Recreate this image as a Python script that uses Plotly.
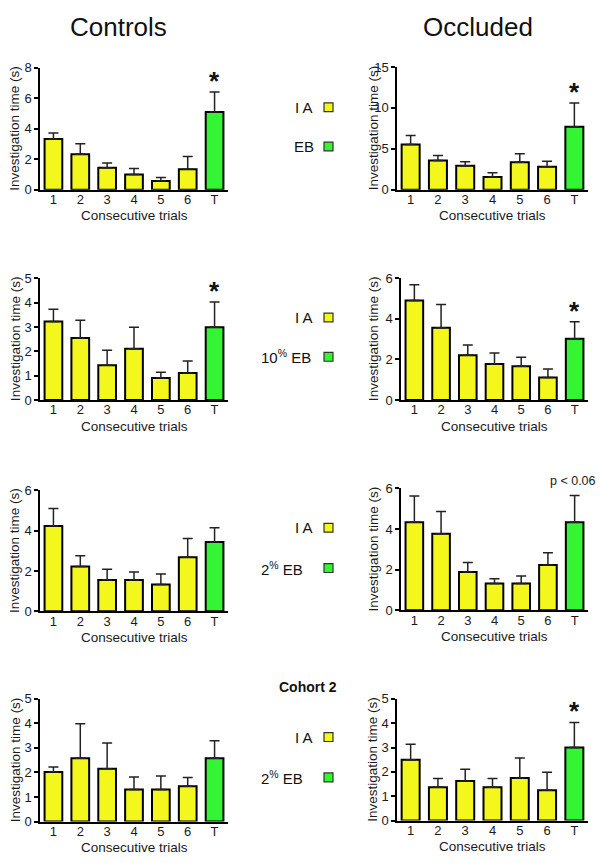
import plotly.graph_objects as go

W, H = 600, 863
categories = ["1", "2", "3", "4", "5", "6", "T"]

# Means and SEMs (upper error only) for each panel
ctrl_eb_mean = [3.34, 2.33, 1.44, 1.01, 0.58, 1.34, 5.11]
ctrl_eb_sem = [0.39, 0.69, 0.31, 0.39, 0.22, 0.84, 1.31]
occ_eb_mean = [5.54, 3.57, 2.93, 1.56, 3.37, 2.81, 7.70]
occ_eb_sem = [1.08, 0.60, 0.48, 0.53, 1.04, 0.68, 2.89]
ctrl_10_mean = [3.22, 2.55, 1.43, 2.10, 0.90, 1.11, 2.99]
ctrl_10_sem = [0.51, 0.72, 0.61, 0.89, 0.24, 0.49, 1.03]
occ_10_mean = [4.90, 3.56, 2.21, 1.77, 1.66, 1.11, 3.02]
occ_10_sem = [0.78, 1.15, 0.50, 0.55, 0.45, 0.42, 0.83]
ctrl_2_mean = [4.23, 2.22, 1.56, 1.56, 1.33, 2.68, 3.44]
ctrl_2_sem = [0.88, 0.54, 0.53, 0.39, 0.52, 0.94, 0.71]
occ_2_mean = [4.34, 3.77, 1.89, 1.32, 1.32, 2.23, 4.34]
occ_2_sem = [1.29, 1.10, 0.46, 0.24, 0.37, 0.61, 1.31]
ctrl_c2_mean = [2.02, 2.58, 2.15, 1.31, 1.31, 1.44, 2.58]
ctrl_c2_sem = [0.20, 1.40, 1.05, 0.51, 0.55, 0.35, 0.71]
occ_c2_mean = [2.50, 1.37, 1.63, 1.37, 1.75, 1.25, 3.00]
occ_c2_sem = [0.63, 0.36, 0.48, 0.36, 0.82, 0.73, 1.03]

YELLOW = "#f3f71c"
GREEN = "#33f533"
FONT = "Arial, Liberation Sans, sans-serif"
TXT = "#1a1a1a"

# panel: mean, sem, yrange, dtick, pixel box (x0, x1, ytop, ybottom), marker
panels = [
    (ctrl_eb_mean, ctrl_eb_sem, 8, 2, (40, 228, 62, 186), "*"),
    (occ_eb_mean, occ_eb_sem, 15, 5, (397, 588, 61, 186), "*"),
    (ctrl_10_mean, ctrl_10_sem, 5, 1, (40, 228, 276, 400), "*"),
    (occ_10_mean, occ_10_sem, 6, 2, (401, 588, 276, 400), "*"),
    (ctrl_2_mean, ctrl_2_sem, 6, 2, (40, 228, 492, 615), None),
    (occ_2_mean, occ_2_sem, 6, 2, (401, 588, 490, 614), "p"),
    (ctrl_c2_mean, ctrl_c2_sem, 5, 1, (40, 228, 704, 829), None),
    (occ_c2_mean, occ_c2_sem, 5, 1, (397, 588, 704, 828), "*"),
]

fig = go.Figure()
annotations = []
shapes = []

for i, (mean, sem, ymax, dt, box, mark) in enumerate(panels):
    n = i + 1
    xa = "x" if n == 1 else f"x{n}"
    ya = "y" if n == 1 else f"y{n}"
    colors = [YELLOW] * 6 + [GREEN]
    fig.add_trace(go.Bar(
        x=categories, y=mean, xaxis=xa, yaxis=ya,
        marker=dict(color=colors, line=dict(color="black", width=2)),
        width=0.66,
        error_y=dict(type="data", symmetric=False, array=sem,
                     arrayminus=[0] * 7, color="#222222", thickness=1.5, width=5),
        showlegend=False,
    ))
    x0, x1, yt, yb = box
    fig.update_layout(**{
        ("xaxis" if n == 1 else f"xaxis{n}"): dict(
            domain=[x0 / W, x1 / W], anchor=ya, range=[-0.5, 6.5],
            showline=True, linecolor="black", linewidth=1.5,
            ticks="", ticklen=0, ticklabelstandoff=-3,
            tickfont=dict(family=FONT, size=13, color=TXT),
            showgrid=False, zeroline=False, fixedrange=True,
        ),
        ("yaxis" if n == 1 else f"yaxis{n}"): dict(
            domain=[1 - yb / H, 1 - yt / H], anchor=xa, range=[0, ymax],
            dtick=dt, showline=True, linecolor="black", linewidth=1.5,
            ticks="outside", ticklen=4, tickwidth=1.5, tickcolor="black",
            tickfont=dict(family=FONT, size=13, color=TXT),
            showgrid=False, zeroline=False,
        ),
    })
    # axis titles
    ytitle_x = 15 if x0 < 100 else 373
    annotations.append(dict(
        text="Investigation time (s)", xref="paper", yref="paper",
        x=ytitle_x / W, y=1 - ((yt + yb) / 2) / H, textangle=-90,
        showarrow=False, font=dict(family=FONT, size=13.5, color=TXT),
        xanchor="center", yanchor="middle"))
    annotations.append(dict(
        text="Consecutive trials", xref="paper", yref="paper",
        x=((x0 + x1) / 2) / W, y=1 - (yb + 26.5) / H,
        showarrow=False, font=dict(family=FONT, size=13.5, color=TXT),
        xanchor="center", yanchor="middle"))
    top_t = mean[6] + sem[6]
    if mark == "*":
        annotations.append(dict(
            text="<b>*</b>", xref=xa, yref=ya, x="T", y=top_t,
            yanchor="bottom", showarrow=False, yshift=-6,
            font=dict(family=FONT, size=26, color="#111")))
    elif mark == "p":
        annotations.append(dict(
            text="p < 0.06", xref="paper", yref="paper", x=598 / W,
            y=1 - 482 / H, xanchor="right", yanchor="middle", showarrow=False,
            font=dict(family=FONT, size=12.5, color=TXT)))

# column titles
annotations.append(dict(text="Controls", xref="paper", yref="paper",
                        x=118 / W, y=1 - 20 / H, showarrow=False,
                        font=dict(family=FONT, size=26, color="#111"),
                        xanchor="center", yanchor="middle"))
annotations.append(dict(text="Occluded", xref="paper", yref="paper",
                        x=478 / W, y=1 - 20 / H, showarrow=False,
                        font=dict(family=FONT, size=26, color="#111"),
                        xanchor="center", yanchor="middle"))
annotations.append(dict(text="<b>Cohort 2</b>", xref="paper", yref="paper",
                        x=308 / W, y=1 - 692 / H, showarrow=False,
                        font=dict(family=FONT, size=14, color="#111"),
                        xanchor="center", yanchor="middle"))

# legends per row
legend_rows = [
    (("I A", 102, 315), ("EB", 142, 316)),
    (("I A", 316, 315), ("10<sup>%</sup> EB", 356, 313)),
    (("I A", 530, 315), ("2<sup>%</sup> EB", 571, 305)),
    (("I A", 743, 315), ("2<sup>%</sup> EB", 784, 305)),
]
for (a, b) in legend_rows:
    for (label, yy, xr), col in ((a, YELLOW), (b, GREEN)):
        annotations.append(dict(text=label, xref="paper", yref="paper",
                                x=xr / W, y=1 - yy / H, showarrow=False,
                                font=dict(family=FONT, size=15, color="#111"),
                                xanchor="right", yanchor="middle"))
        shapes.append(dict(type="rect", xref="paper", yref="paper",
                           x0=324 / W, x1=333 / W,
                           y0=1 - (yy + 4.5) / H, y1=1 - (yy - 4.5) / H,
                           fillcolor=col, line=dict(color="#333", width=1.2)))

fig.update_layout(
    width=W, height=H, margin=dict(l=0, r=0, t=0, b=0),
    paper_bgcolor="white", plot_bgcolor="white",
    annotations=annotations, shapes=shapes, bargap=0.34,
    font=dict(family=FONT),
)
fig.write_html("out.html", config={"displayModeBar": False},
               post_script="document.body.style.margin='0px';document.body.style.overflow='hidden';")
